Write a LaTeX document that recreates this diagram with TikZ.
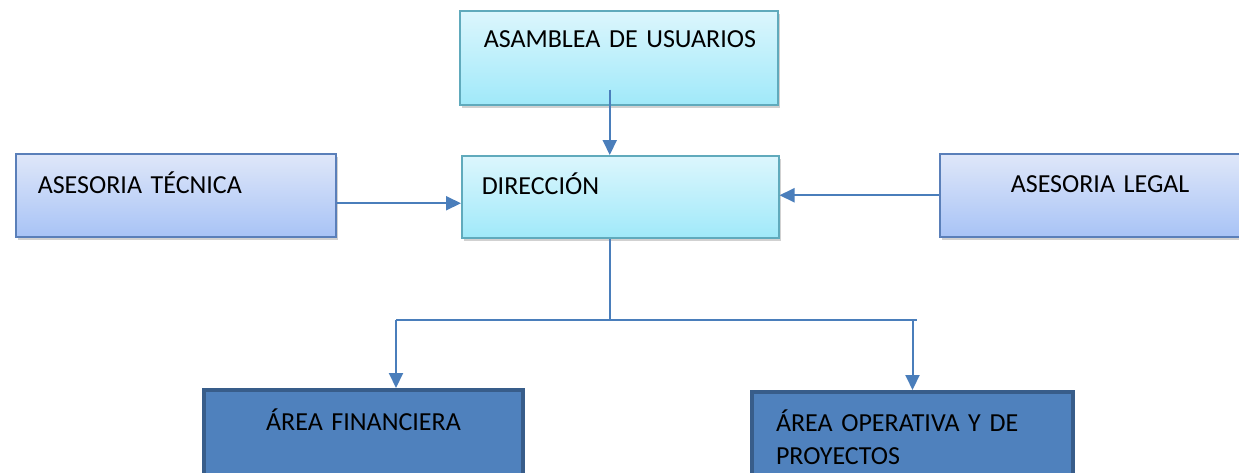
\documentclass[tikz,border=0pt]{standalone}
\usepackage{fontspec}
\setmainfont{Carlito}
\usepackage{tikz}
\usetikzlibrary{positioning,arrows.meta,shadows}

\definecolor{cyantop}{RGB}{220,246,253}
\definecolor{cyanbot}{RGB}{160,233,249}
\definecolor{cyanline}{RGB}{96,170,188}
\definecolor{bluetop}{RGB}{223,231,249}
\definecolor{bluebot}{RGB}{168,195,246}
\definecolor{blueline}{RGB}{90,127,185}
\definecolor{areafill}{RGB}{79,129,189}
\definecolor{arealine}{RGB}{56,93,138}
\definecolor{linkcol}{RGB}{74,126,187}

\begin{document}
\begin{tikzpicture}[
  x=1pt, y=-1pt,
  every node/.style={font=\fontsize{26}{33}\selectfont},
  boxbase/.style={anchor=north west, inner ysep=0pt, align=left},
  cbox/.style={boxbase, draw=cyanline, line width=1.5pt, top color=cyantop, bottom color=cyanbot,
    drop shadow={shadow xshift=2pt, shadow yshift=-3pt, opacity=0.3, fill=black!60}},
  bbox/.style={boxbase, draw=blueline, line width=1.5pt, top color=bluetop, bottom color=bluebot,
    drop shadow={shadow xshift=2pt, shadow yshift=-3pt, opacity=0.3, fill=black!60}},
  abox/.style={boxbase, draw=arealine, line width=4pt, fill=areafill},
  link/.style={draw=linkcol, line width=2pt},
  arr/.style={link, -{Triangle[length=15pt, width=14pt]}},
]
\clip (0,0) rectangle (1239,472);

\node[cbox, text width=270pt, inner xsep=24pt, text height=37pt, text depth=57pt] (asam) at (459,10) {\mbox{ASAMBLEA DE USUARIOS}};
\node[cbox, text width=277pt, inner xsep=20pt, text height=39pt, text depth=43pt] (dir) at (461,155) {DIRECCIÓN};
\node[bbox, text width=276pt, inner xsep=22pt, text height=40pt, text depth=43pt] (tec) at (15,153) {ASESORIA TÉCNICA};
\node[bbox, text width=200pt, inner xsep=71pt, text height=39pt, text depth=44pt] (leg) at (939,153) {ASESORIA LEGAL};
\node[abox, align=center, text width=299pt, inner xsep=10pt, text height=40pt, text depth=70pt] (fin) at (202,388) {ÁREA FINANCIERA};
\node[abox, text width=273pt, inner xsep=24pt, text height=39pt, text depth=70pt] (ope) at (750,390) {\mbox{ÁREA OPERATIVA Y DE}\\PROYECTOS};

\coordinate (busl) at (396,320);
\coordinate (busr) at (917,320);

\draw[arr] ([xshift=-9pt,yshift=16pt]asam.south) -- ([xshift=-9pt]asam.south |- dir.north);
\draw[arr] ([yshift=-8pt]tec.east) -- ([yshift=-8pt]tec.east -| dir.west);
\draw[arr] (leg.west) -- (leg.west -| dir.east);
\draw[link] ([xshift=-10pt]dir.south) -- ([xshift=-10pt]dir.south |- busl);
\draw[link] (busl) -- (busr);
\draw[arr] (busl) -- (busl |- fin.north);
\draw[arr] (ope.north |- busr) -- (ope.north);
\end{tikzpicture}
\end{document}
